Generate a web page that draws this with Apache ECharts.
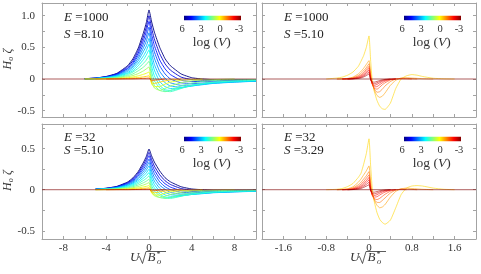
<!DOCTYPE html>
<html><head><meta charset="utf-8">
<script src="https://cdn.jsdelivr.net/npm/echarts@6/dist/echarts.min.js"></script>
<style>html,body{margin:0;padding:0;background:#fff}#c{width:481px;height:274px}</style>
</head><body><div id="c"></div><script>
// ---------- data ----------
const xLeft = [-6,-5,-4,-3,-2,-1.5,-1,-0.5,-0.25,0,0.25,0.5,1,1.5,2,3,4,5,6,8,10];
const xRight = [-0.8,-0.6,-0.5,-0.4,-0.3,-0.2,-0.15,-0.1,-0.05,0,0.03,0.06,0.1,0.15,0.2,0.25,0.3,0.4,0.5,0.6,0.7,0.8,0.9,1.0,1.2,1.4,1.6,2.0];

const logV_left = [6,5.3,4.7,4.2,3.7,3.3,2.9,2.5,2.1,1.7,1.2,0.6,0,-1];
const logV_right = [0,-0.5,-0.9,-1.3,-1.7,-2.0,-2.3,-2.6];
const logV_flat = -3;

const curvesTL = [
 [0.005,0.015,0.04,0.09,0.21,0.32,0.49,0.74,0.89,1.09, 0.9,0.74,0.5,0.32,0.21,0.08,0.02,0,-0.01,-0.01,-0.01],
 [0.005,0.014,0.037,0.083,0.19,0.29,0.45,0.68,0.82,1.0, 0.8,0.63,0.4,0.24,0.14,0.03,-0.01,-0.02,-0.02,-0.02,-0.015],
 [0.005,0.013,0.034,0.076,0.17,0.26,0.41,0.62,0.75,0.91, 0.7,0.53,0.3,0.16,0.07,-0.02,-0.04,-0.04,-0.035,-0.03,-0.02],
 [0.004,0.011,0.03,0.068,0.16,0.24,0.37,0.56,0.67,0.82, 0.6,0.43,0.21,0.08,0,-0.06,-0.07,-0.065,-0.055,-0.04,-0.03],
 [0.004,0.01,0.027,0.061,0.14,0.21,0.33,0.5,0.6,0.73, 0.5,0.33,0.12,0.01,-0.06,-0.1,-0.095,-0.08,-0.065,-0.045,-0.035],
 [0.003,0.009,0.024,0.053,0.12,0.19,0.29,0.44,0.52,0.64, 0.4,0.23,0.04,-0.06,-0.11,-0.13,-0.11,-0.09,-0.07,-0.05,-0.035],
 [0.003,0.008,0.02,0.046,0.1,0.16,0.25,0.37,0.45,0.55, 0.3,0.14,-0.04,-0.12,-0.15,-0.14,-0.11,-0.085,-0.065,-0.045,-0.03],
 [0.002,0.006,0.017,0.038,0.087,0.13,0.21,0.31,0.38,0.46, 0.2,0.05,-0.1,-0.17,-0.18,-0.14,-0.1,-0.075,-0.055,-0.035,-0.025],
 [0.002,0.005,0.014,0.031,0.07,0.11,0.17,0.25,0.3,0.37, 0.11,-0.03,-0.14,-0.19,-0.2,-0.15,-0.1,-0.07,-0.05,-0.03,-0.02],
 [0.001,0.004,0.01,0.023,0.053,0.081,0.13,0.19,0.23,0.28, 0.02,-0.1,-0.18,-0.2,-0.18,-0.11,-0.065,-0.04,-0.025,-0.012,-0.008],
 [0.001,0.003,0.007,0.016,0.036,0.055,0.086,0.13,0.16,0.19, -0.05,-0.14,-0.18,-0.15,-0.11,-0.06,-0.03,-0.015,-0.01,0,0],
 [0,0.002,0.004,0.009,0.021,0.032,0.05,0.075,0.09,0.11, -0.08,-0.12,-0.12,-0.08,-0.05,-0.02,-0.01,0,0,0,0],
 [0,0,0.002,0.004,0.01,0.015,0.023,0.034,0.041,0.05, -0.06,-0.07,-0.05,-0.03,-0.015,0,0,0,0,0,0],
 [0,0,0,0.001,0.003,0.004,0.007,0.01,0.012,0.015, -0.03,-0.02,-0.01,0,0,0,0,0,0,0,0]
];
const curvesBL = [
 [null,0.007,0.018,0.041,0.094,0.144,0.223,0.337,0.406,0.495, 0.41,0.337,0.228,0.146,0.096,0.036,0.009,0,-0.005,-0.005,-0.005],
 [null,0.006,0.017,0.038,0.086,0.132,0.205,0.309,0.373,0.455, 0.364,0.287,0.182,0.109,0.064,0.014,-0.005,-0.011,-0.011,-0.011,-0.008],
 [null,0.006,0.015,0.034,0.079,0.12,0.187,0.282,0.34,0.415, 0.319,0.241,0.137,0.073,0.032,-0.011,-0.021,-0.021,-0.019,-0.016,-0.011],
 [null,0.005,0.014,0.031,0.071,0.108,0.168,0.254,0.306,0.373, 0.273,0.196,0.096,0.036,0,-0.032,-0.037,-0.034,-0.029,-0.021,-0.016],
 [null,0.005,0.012,0.028,0.063,0.096,0.149,0.226,0.272,0.332, 0.228,0.15,0.055,0.005,-0.032,-0.053,-0.05,-0.042,-0.034,-0.024,-0.019],
 [null,0.004,0.011,0.024,0.055,0.084,0.131,0.198,0.239,0.291, 0.182,0.105,0.018,-0.032,-0.058,-0.069,-0.058,-0.048,-0.037,-0.027,-0.019],
 [null,0.004,0.009,0.021,0.048,0.073,0.113,0.17,0.205,0.25, 0.137,0.064,-0.021,-0.064,-0.08,-0.074,-0.058,-0.045,-0.034,-0.024,-0.016],
 [null,0.003,0.008,0.017,0.04,0.061,0.094,0.142,0.171,0.209, 0.091,0.023,-0.053,-0.09,-0.095,-0.074,-0.053,-0.04,-0.029,-0.019,-0.013],
 [null,0.002,0.006,0.014,0.032,0.049,0.076,0.114,0.138,0.168, 0.05,-0.016,-0.074,-0.1,-0.106,-0.08,-0.053,-0.037,-0.026,-0.016,-0.011],
 [null,0.002,0.005,0.011,0.024,0.037,0.057,0.086,0.104,0.127, 0.009,-0.053,-0.095,-0.106,-0.095,-0.058,-0.034,-0.021,-0.013,-0.006,-0.004],
 [null,0.001,0.003,0.007,0.016,0.025,0.039,0.058,0.071,0.086, -0.026,-0.074,-0.095,-0.08,-0.058,-0.032,-0.016,-0.008,-0.005,0,0],
 [null,0.001,0.002,0.004,0.01,0.015,0.023,0.034,0.041,0.05, -0.042,-0.064,-0.064,-0.042,-0.027,-0.011,-0.005,0,0,0,0],
 [null,0,0.001,0.002,0.004,0.007,0.01,0.016,0.019,0.023, -0.032,-0.037,-0.027,-0.016,-0.008,0,0,0,0,0,0],
 [null,0,0,0.001,0.001,0.002,0.003,0.005,0.006,0.007, -0.016,-0.011,-0.005,0,0,0,0,0,0,0,0]
];
const curvesTR = [
 [0,0.015,0.03,0.06,0.11,0.2,0.28,0.37,0.5,0.68, 0.3,-0.02,-0.2,-0.34,-0.43,-0.47,-0.48,-0.38,-0.15,0.0,0.05,0.07,0.06,0.04,0.012,0.003,0,0],
 [0,0,0.003,0.01,0.03,0.08,0.12,0.17,0.23,0.29, 0.1,-0.06,-0.18,-0.26,-0.29,-0.27,-0.22,-0.1,-0.02,0.015,0.02,0.015,0.01,0.005,0,0,0,0],
 [0,0,0.002,0.006,0.02,0.055,0.09,0.13,0.18,0.24, 0.06,-0.07,-0.16,-0.21,-0.2,-0.16,-0.11,-0.04,0,0.01,0.01,0.005,0,0,0,0,0,0],
 [0,0,0,0.004,0.013,0.04,0.065,0.1,0.15,0.2, 0.03,-0.08,-0.15,-0.16,-0.13,-0.09,-0.06,-0.015,0.003,0.005,0.003,0,0,0,0,0,0,0],
 [0,0,0,0.002,0.008,0.028,0.05,0.08,0.12,0.17, 0.01,-0.08,-0.125,-0.12,-0.09,-0.06,-0.035,-0.008,0,0,0,0,0,0,0,0,0,0],
 [0,0,0,0.001,0.005,0.02,0.037,0.062,0.097,0.14, 0,-0.07,-0.1,-0.085,-0.06,-0.037,-0.02,-0.004,0,0,0,0,0,0,0,0,0,0],
 [0,0,0,0,0.003,0.013,0.026,0.046,0.075,0.11, -0.01,-0.06,-0.075,-0.06,-0.04,-0.023,-0.012,-0.002,0,0,0,0,0,0,0,0,0,0],
 [0,0,0,0,0.002,0.008,0.017,0.032,0.053,0.08, -0.01,-0.045,-0.05,-0.038,-0.024,-0.013,-0.006,0,0,0,0,0,0,0,0,0,0,0]
];
const curvesBR = [
 [0,0.005,0.015,0.038,0.076,0.15,0.2,0.31,0.44,0.62, 0.3,0.02,-0.15,-0.28,-0.36,-0.4,-0.42,-0.37,-0.22,-0.06,0.02,0.045,0.05,0.045,0.02,0.005,0,0],
 [0,0,0.003,0.012,0.035,0.09,0.13,0.18,0.23,0.29, 0.1,-0.04,-0.13,-0.19,-0.22,-0.21,-0.18,-0.09,-0.02,0.01,0.02,0.015,0.01,0.005,0,0,0,0],
 [0,0,0.002,0.007,0.022,0.06,0.09,0.13,0.17,0.22, 0.05,-0.06,-0.12,-0.155,-0.155,-0.13,-0.1,-0.04,-0.005,0.008,0.008,0.004,0,0,0,0,0,0],
 [0,0,0,0.004,0.014,0.042,0.068,0.1,0.14,0.18, 0.02,-0.07,-0.11,-0.12,-0.105,-0.08,-0.055,-0.018,0,0.004,0,0,0,0,0,0,0,0],
 [0,0,0,0.002,0.009,0.03,0.05,0.08,0.11,0.15, 0.005,-0.065,-0.09,-0.085,-0.065,-0.045,-0.028,-0.007,0,0,0,0,0,0,0,0,0,0],
 [0,0,0,0.001,0.005,0.02,0.037,0.06,0.088,0.12, -0.005,-0.055,-0.07,-0.06,-0.042,-0.027,-0.015,-0.003,0,0,0,0,0,0,0,0,0,0],
 [0,0,0,0,0.003,0.013,0.025,0.043,0.065,0.09, -0.01,-0.045,-0.05,-0.04,-0.026,-0.015,-0.008,0,0,0,0,0,0,0,0,0,0,0],
 [0,0,0,0,0.002,0.008,0.015,0.028,0.043,0.06, -0.01,-0.028,-0.03,-0.022,-0.013,-0.007,-0.003,0,0,0,0,0,0,0,0,0,0,0]
];

const labelsE = ['1000','1000','32','32'];
const labelsS = ['8.10','5.10','5.10','3.29'];
const cbarTicks = ['6','3','0','-3'];
const xTicksLeft = [-10,-8,-6,-4,-2,0,2,4,6,8,10];
const xLabelsLeft = [-8,-4,0,4,8];
const xTicksRight = [-2,-1.6,-1.2,-0.8,-0.4,0,0.4,0.8,1.2,1.6,2];
const xLabelsRight = [-1.6,-0.8,0,0.8,1.6];
const yTicksTop = [-0.5,-0.25,0,0.25,0.5,0.75,1.0];
const yTicksBottom = [-0.5,-0.25,0,0.25,0.5,0.75];
const yLabelsTop = [-0.5,0,0.5,1.0];
const yLabelsBottom = [-0.5,0,0.5];

// ---------- style helpers ----------
function jet(L){
  const t = (6 - L) / 9;
  const c = v => Math.max(0, Math.min(1, v));
  const r = c(Math.min(4*t-1.5, -4*t+4.5));
  const g = c(Math.min(4*t-0.5, -4*t+3.5));
  const b = c(Math.min(4*t+0.5, -4*t+2.5));
  return 'rgb(' + Math.round(r*255) + ',' + Math.round(g*255) + ',' + Math.round(b*255) + ')';
}
// drop long runs of zeros at the ends (keep one zero next to the curve)
function trimmed(xs, ys){
  const pts = [];
  xs.forEach((x, j) => { if (ys[j] !== null) pts.push([x, ys[j]]); });
  let a = 0, b = pts.length - 1;
  while (a < b - 1 && pts[a][1] === 0 && pts[a+1][1] === 0) a++;
  while (b > a + 1 && pts[b][1] === 0 && pts[b-1][1] === 0) b--;
  return pts.slice(a, b + 1);
}
const SERIF = 'Liberation Serif';
const FRAME = '#a3a3a3';
const TXT = '#333';

const panels = [
  {left:42, top:3, width:214, height:114, xs:xLeft, curves:curvesTL, L:logV_left, xr:[-10,10], yr:[-0.6,1.2], xt:xTicksLeft, xl:xLabelsLeft, yt:yTicksTop, yl:yLabelsTop, showX:false, showY:true, lw:0.9, op:1},
  {left:262, top:3, width:214, height:114, xs:xRight, curves:curvesTR, L:logV_right, xr:[-2,2], yr:[-0.6,1.2], xt:xTicksRight, xl:xLabelsRight, yt:yTicksTop, yl:yLabelsTop, showX:false, showY:false, lw:0.8, op:0.75},
  {left:42, top:124, width:214, height:115, xs:xLeft, curves:curvesBL, L:logV_left, xr:[-10,10], yr:[-0.6,0.8], xt:xTicksLeft, xl:xLabelsLeft, yt:yTicksBottom, yl:yLabelsBottom, showX:true, showY:true, lw:0.9, op:1},
  {left:262, top:124, width:214, height:115, xs:xRight, curves:curvesBR, L:logV_right, xr:[-2,2], yr:[-0.6,0.8], xt:xTicksRight, xl:xLabelsRight, yt:yTicksBottom, yl:yLabelsBottom, showX:true, showY:false, lw:0.8, op:0.75}
];

const grid = [], xAxis = [], yAxis = [], series = [], graphic = [];
const fmtY = v => (v === 0 ? '0' : (v === 1 ? '1.0' : String(v)));

panels.forEach((p, i) => {
  grid.push({left:p.left, top:p.top, width:p.width, height:p.height, containLabel:false});
  const axLine = {show:true, onZero:false, lineStyle:{color:FRAME, width:1}};
  const tick = (vals) => ({show:true, inside:true, length:3, customValues:vals, lineStyle:{color:FRAME, width:1}});
  xAxis.push({type:'value', gridIndex:i, position:'bottom', min:p.xr[0], max:p.xr[1],
    axisLine:axLine, axisTick:tick(p.xt), splitLine:{show:false},
    axisLabel:{show:p.showX, customValues:p.xl, margin:4, color:TXT, fontFamily:SERIF, fontSize:11, formatter:v => String(v)}});
  xAxis.push({type:'value', gridIndex:i, position:'top', min:p.xr[0], max:p.xr[1],
    axisLine:axLine, axisTick:tick(p.xt), splitLine:{show:false}, axisLabel:{show:false}});
  yAxis.push({type:'value', gridIndex:i, position:'left', min:p.yr[0], max:p.yr[1],
    axisLine:axLine, axisTick:tick(p.yt), splitLine:{show:false},
    axisLabel:{show:p.showY, customValues:p.yl, margin:7, color:TXT, fontFamily:SERIF, fontSize:11, formatter:fmtY}});
  yAxis.push({type:'value', gridIndex:i, position:'right', min:p.yr[0], max:p.yr[1],
    axisLine:axLine, axisTick:tick(p.yt), splitLine:{show:false}, axisLabel:{show:false}});

  p.curves.forEach((ys, k) => {
    series.push({type:'line', xAxisIndex:2*i, yAxisIndex:2*i, data:trimmed(p.xs, ys), showSymbol:false, silent:true,
      smooth:0.15, lineStyle:{color:jet(p.L[k]), width:p.lw, opacity:p.op}, z:2+k*0.01});
  });
  series.push({type:'line', xAxisIndex:2*i, yAxisIndex:2*i, data:[[p.xr[0],0],[p.xr[1],0]], showSymbol:false, silent:true,
    lineStyle:{color:jet(logV_flat), width:0.8, opacity:0.8}, z:3});

  const tx = p.left + 22;
  const eY = i < 2 ? 18 : 138, sY = i < 2 ? 34.5 : 150.5;
  graphic.push({type:'text', x:tx, y:eY, silent:true, style:{text:'{i|E} =' + labelsE[i], fill:'#222', fontFamily:SERIF, fontSize:13, verticalAlign:'middle',
    rich:{i:{fontStyle:'italic', fontFamily:SERIF, fontSize:13}}}});
  graphic.push({type:'text', x:tx, y:sY, silent:true, style:{text:'{i|S} =' + labelsS[i], fill:'#222', fontFamily:SERIF, fontSize:13, verticalAlign:'middle',
    rich:{i:{fontStyle:'italic', fontFamily:SERIF, fontSize:13}}}});

  const cbx = p.left + 142, cby = p.top + 12.7;
  graphic.push({type:'rect', silent:true, shape:{x:cbx, y:cby, width:57, height:4.6},
    style:{fill:{type:'linear', x:0, y:0, x2:1, y2:0, colorStops:[
      {offset:0, color:'rgb(0,0,128)'}, {offset:0.125, color:'rgb(0,0,255)'}, {offset:0.375, color:'rgb(0,255,255)'},
      {offset:0.625, color:'rgb(255,255,0)'}, {offset:0.875, color:'rgb(255,0,0)'}, {offset:1, color:'rgb(128,0,0)'}]}}});
  const ly = cby + 13.6;
  cbarTicks.forEach((t, k) => {
    graphic.push({type:'text', x:cbx - 2 + k*19, y:ly, silent:true, style:{text:t, fill:TXT, fontFamily:SERIF, fontSize:10.5, align:'center', verticalAlign:'middle'}});
  });
  graphic.push({type:'text', x:cbx + 27.7, y:cby + 27.2, silent:true, style:{text:'log ({v|V})', fill:TXT, fontFamily:SERIF, fontSize:13.5, align:'center', verticalAlign:'middle',
    rich:{v:{fontStyle:'italic', fontFamily:SERIF, fontSize:13.5}}}});
});

[59, 180.5].forEach(cy => {
  graphic.push({type:'text', x:8, y:cy, rotation:Math.PI/2, silent:true, style:{text:'{h|H}{s|o} {z|ζ}', fill:TXT, align:'center', verticalAlign:'middle',
    rich:{h:{fontStyle:'italic', fontFamily:SERIF, fontSize:12, lineHeight:14, verticalAlign:'middle'},
          s:{fontStyle:'italic', fontFamily:SERIF, fontSize:8, lineHeight:14, verticalAlign:'bottom'},
          z:{fontStyle:'italic', fontFamily:SERIF, fontSize:12, lineHeight:14, verticalAlign:'middle'}}}});
});
[149, 369].forEach(cx => {
  graphic.push({type:'text', x:cx - 19, y:257.5, silent:true, style:{text:'U', fill:TXT, fontFamily:SERIF, fontStyle:'italic', fontSize:13, verticalAlign:'middle'}});
  graphic.push({type:'polyline', silent:true, shape:{points:[[cx-11,257.5],[cx-9.5,256.5],[cx-6.5,263.5],[cx-3,251.5],[cx+17,251.5]]}, style:{stroke:TXT, lineWidth:0.8, fill:null}});
  graphic.push({type:'text', x:cx - 1.5, y:258, silent:true, style:{text:'B', fill:TXT, fontFamily:SERIF, fontStyle:'italic', fontSize:13, verticalAlign:'middle'}});
  graphic.push({type:'text', x:cx + 7.5, y:255, silent:true, style:{text:'*', fill:TXT, fontFamily:SERIF, fontSize:8, verticalAlign:'middle'}});
  graphic.push({type:'text', x:cx + 8, y:262, silent:true, style:{text:'o', fill:TXT, fontFamily:SERIF, fontStyle:'italic', fontSize:8.5, verticalAlign:'middle'}});
});

const chart = echarts.init(document.getElementById('c'), null, {renderer:'canvas'});
chart.setOption({animation:false, backgroundColor:'#fff', grid, xAxis, yAxis, series, graphic});
</script></body></html>
